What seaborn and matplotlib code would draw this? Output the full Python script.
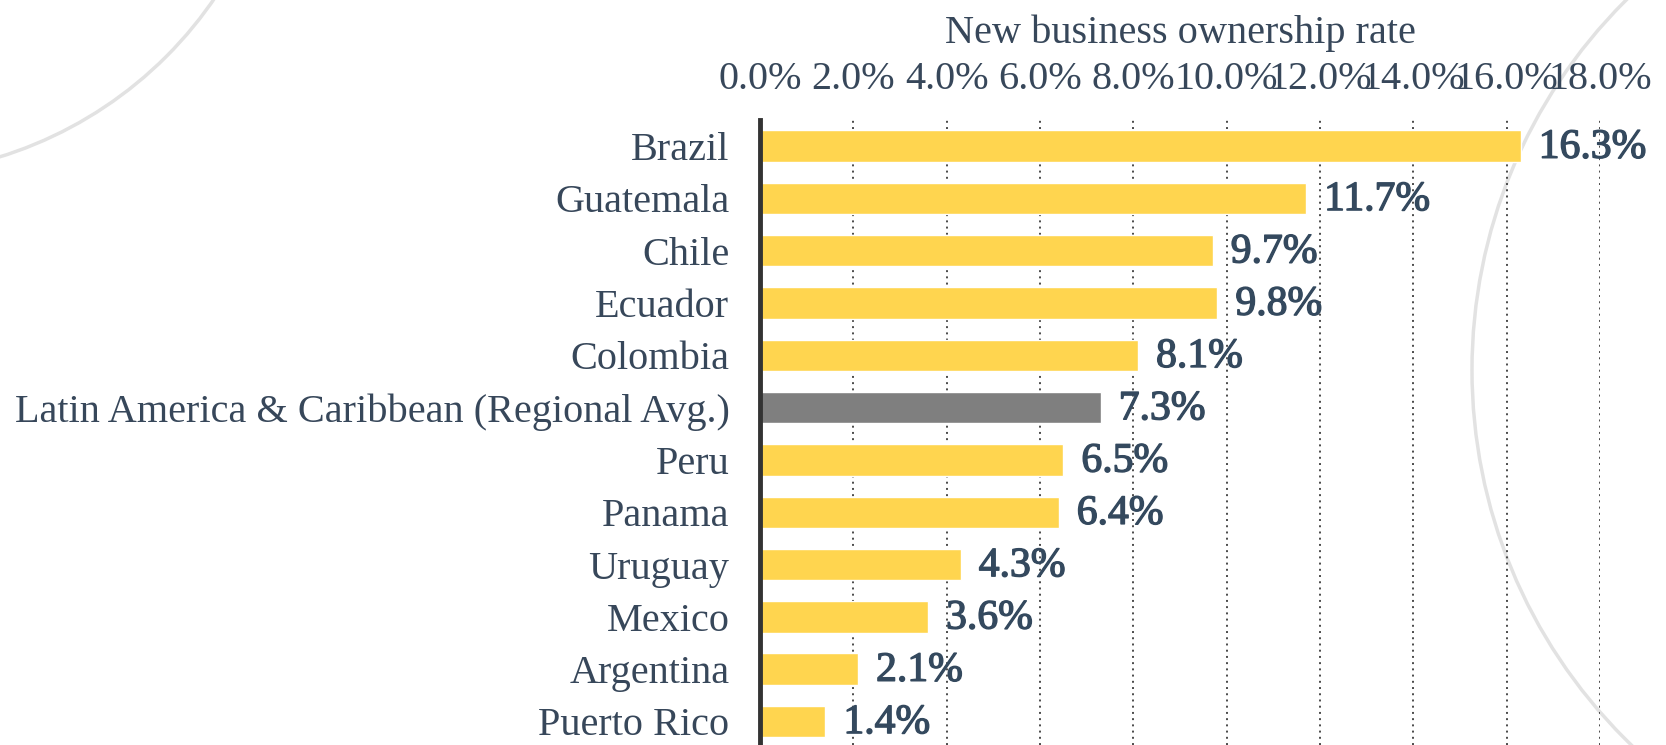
import matplotlib
matplotlib.use("Agg")
import matplotlib.pyplot as plt
import matplotlib.patheffects as pe
import seaborn as sns
import pandas as pd
from matplotlib.patches import Circle

countries = ["Brazil", "Guatemala", "Chile", "Ecuador", "Colombia",
             "Latin America & Caribbean (Regional Avg.)", "Peru", "Panama",
             "Uruguay", "Mexico", "Argentina", "Puerto Rico"]
rates = [16.3, 11.7, 9.7, 9.8, 8.1, 7.3, 6.5, 6.4, 4.3, 3.6, 2.1, 1.4]
groups = ["Country"] * 5 + ["Regional"] + ["Country"] * 6
tick_values = [0, 2, 4, 6, 8, 10, 12, 14, 16, 18]
tick_labels = ["0.0%", "2.0%", "4.0%", "6.0%", "8.0%", "10.0%", "12.0%",
               "14.0%", "16.0%", "18.0%"]
axis_title = "New business ownership rate"

df = pd.DataFrame({"country": countries, "rate": rates, "group": groups})

sns.set_style("white")
plt.rcParams["font.family"] = ["Liberation Serif", "DejaVu Serif"]

W, H = 1666, 745
fig = plt.figure(figsize=(W / 100, H / 100), dpi=100)
fig.patch.set_facecolor("white")

# faint decorative background
bg = fig.add_axes([0, 0, 1, 1], zorder=-5)
bg.set_xlim(0, W)
bg.set_ylim(H, 0)
bg.axis("off")
bg.add_patch(Circle((-120, -230), 405, fill=False, ec="#e2e2e2", lw=2.5))
bg.add_patch(Circle((1993, 370), 521, fill=False, ec="#e2e2e2", lw=2.5))

ax = fig.add_axes([760 / W, 0, 840 / W, 625 / H])
ax.patch.set_alpha(0)

text_color = "#37475A"
sns.barplot(data=df, y="country", x="rate", hue="group", orient="h",
            palette={"Country": "#FFD54F", "Regional": "#7F7F7F"},
            saturation=1, width=0.6, dodge=False, legend=False, ax=ax, zorder=3)

ax.set_xlim(0, 18)
ax.set_ylim(11.45, -0.5)

ax.xaxis.tick_top()
ax.xaxis.set_label_position("top")
ax.set_xticks(tick_values)
ax.set_xticklabels(tick_labels)
ax.set_xlabel(axis_title, fontsize=29, color=text_color, labelpad=13)
ax.set_ylabel("")
ax.tick_params(axis="x", length=0, pad=16, labelsize=29, labelcolor=text_color)
ax.tick_params(axis="y", length=0, pad=22, labelsize=29, labelcolor=text_color)

for v in tick_values[1:]:
    ax.axvline(v, color="#4a4a4a", lw=1.4, ls=(0, (1, 2.2)), zorder=1)

for s in ["top", "right", "bottom"]:
    ax.spines[s].set_visible(False)
ax.spines["left"].set_color("#333333")
ax.spines["left"].set_linewidth(3.5)
ax.spines["left"].set_zorder(5)

for i, v in enumerate(rates):
    ax.annotate(f"{v:.1f}%", xy=(v, i), xytext=(13, -1),
                textcoords="offset points", va="center", ha="left",
                fontsize=30, color="#34495E",
                path_effects=[pe.withStroke(linewidth=1.0, foreground="#34495E")],
                annotation_clip=False, zorder=6)

fig.savefig("out.png", dpi=100)
